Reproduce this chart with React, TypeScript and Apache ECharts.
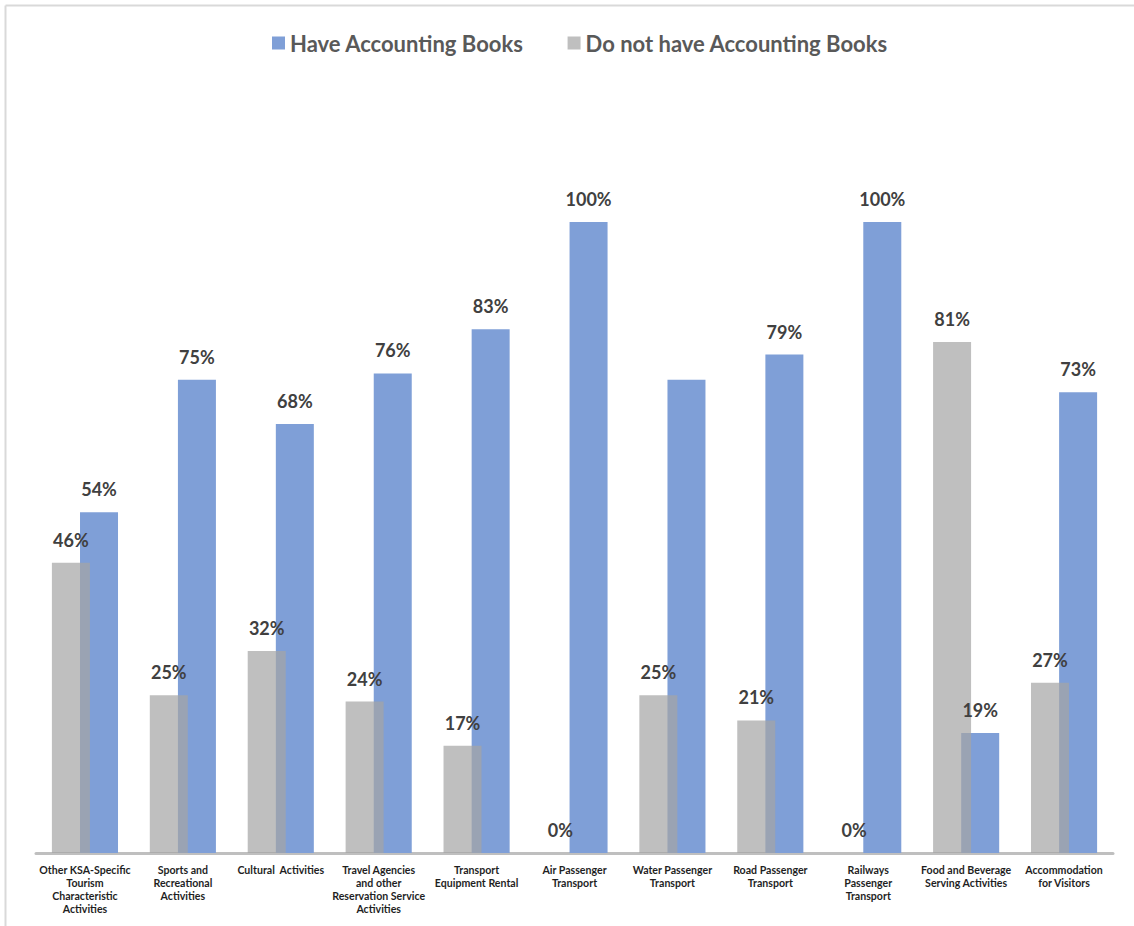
import React, { useEffect, useRef } from "react";
import * as echarts from "echarts";

const categories = [
  "Other KSA-Specific\nTourism\nCharacteristic\nActivities",
  "Sports and\nRecreational\nActivities",
  "Cultural  Activities",
  "Travel Agencies\nand other\nReservation Service\nActivities",
  "Transport\nEquipment Rental",
  "Air Passenger\nTransport",
  "Water Passenger\nTransport",
  "Road Passenger\nTransport",
  "Railways\nPassenger\nTransport",
  "Food and Beverage\nServing Activities",
  "Accommodation\nfor Visitors",
];
const haveBooks = [54, 75, 68, 76, 83, 100, 75, 79, 100, 19, 73];
const noBooks = [46, 25, 32, 24, 17, 0, 25, 21, 0, 81, 27];
const haveHiddenLabels = [6];
const seriesNames = ["Have Accounting Books", "Do not have Accounting Books"];

export default function App() {
  const ref = useRef<HTMLDivElement>(null);
  useEffect(() => {
    document.body.style.margin = "0";
    const chart = echarts.init(ref.current!, null, { renderer: "svg" });
    const labelStyle = {
      show: true,
      position: "top",
      distance: 14,
      formatter: (p: any) => `${p.value}%`,
      fontFamily: "Lato",
      fontWeight: "bold",
      fontSize: 18,
      color: "#404040",
    };
    const baseBar = { type: "bar", barWidth: 38, barGap: "-26%" };
    chart.setOption({
      animation: false,
      backgroundColor: "#ffffff",
      legend: {
        data: seriesNames,
        left: 267,
        top: 27,
        itemWidth: 13,
        itemHeight: 13,
        itemGap: 44,
        icon: "rect",
        textStyle: {
          fontFamily: "Lato",
          fontWeight: "bold",
          fontSize: 22,
          color: "#595959",
        },
      },
      grid: { left: 36, right: 21, top: 222, bottom: 73, containLabel: false },
      xAxis: [
        {
          type: "category",
          data: categories,
          axisLine: { show: true, lineStyle: { color: "#bfbfbf", width: 3 } },
          axisTick: { show: false },
          axisLabel: {
            interval: 0,
            margin: 10,
            fontFamily: "Lato",
            fontWeight: "bold",
            fontSize: 10.6,
            lineHeight: 13,
            color: "#1f1f1f",
            align: "center",
          },
        },
        { type: "category", data: categories, show: false },
      ],
      yAxis: {
        type: "value",
        min: 0,
        max: 100,
        show: false,
        splitLine: { show: false },
      },
      series: [
        {
          ...baseBar,
          name: seriesNames[1],
          data: noBooks,
          z: 3,
          itemStyle: { color: "rgba(165,165,165,0.71)" },
        },
        {
          ...baseBar,
          name: seriesNames[0],
          data: haveBooks,
          z: 2,
          itemStyle: { color: "#7f9fd7" },
        },
        {
          ...baseBar,
          name: "labels-no",
          xAxisIndex: 1,
          data: noBooks,
          z: 5,
          silent: true,
          itemStyle: { color: "rgba(0,0,0,0)" },
          label: labelStyle,
        },
        {
          ...baseBar,
          name: "labels-have",
          xAxisIndex: 1,
          data: haveBooks.map((v, i) =>
            haveHiddenLabels.includes(i) ? { value: v, label: { show: false } } : v
          ),
          z: 5,
          silent: true,
          itemStyle: { color: "rgba(0,0,0,0)" },
          label: labelStyle,
        },
      ],
      graphic: [
        {
          type: "line",
          shape: { x1: 5.5, y1: 5.5, x2: 1134, y2: 5.5 },
          style: { stroke: "#d9d9d9", lineWidth: 2 },
          silent: true,
        },
        {
          type: "line",
          shape: { x1: 5.5, y1: 5.5, x2: 5.5, y2: 926 },
          style: { stroke: "#d9d9d9", lineWidth: 2 },
          silent: true,
        },
      ],
    });
    return () => chart.dispose();
  }, []);
  return (
    <div
      ref={ref}
      style={{ position: "absolute", left: 0, top: 0, width: 1134, height: 926 }}
    />
  );
}
